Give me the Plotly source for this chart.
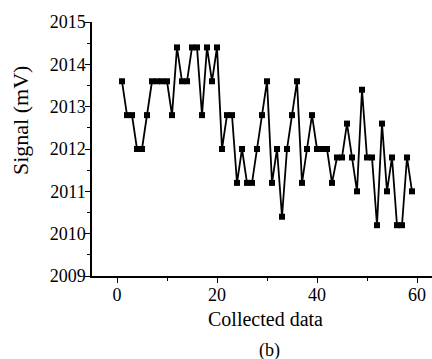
import plotly.graph_objects as go

x_index = list(range(1, 60))
signal_mv = [
    2013.6, 2012.8, 2012.8, 2012.0, 2012.0, 2012.8, 2013.6, 2013.6, 2013.6, 2013.6,
    2012.8, 2014.4, 2013.6, 2013.6, 2014.4, 2014.4, 2012.8, 2014.4, 2013.6, 2014.4,
    2012.0, 2012.8, 2012.8, 2011.2, 2012.0, 2011.2, 2011.2, 2012.0, 2012.8, 2013.6,
    2011.2, 2012.0, 2010.4, 2012.0, 2012.8, 2013.6, 2011.2, 2012.0, 2012.8, 2012.0,
    2012.0, 2012.0, 2011.2, 2011.8, 2011.8, 2012.6, 2011.8, 2011.0, 2013.4, 2011.8,
    2011.8, 2010.2, 2012.6, 2011.0, 2011.8, 2010.2, 2010.2, 2011.8, 2011.0,
]
x_ticks = [0, 20, 40, 60]
y_ticks = [2009, 2010, 2011, 2012, 2013, 2014, 2015]

FONT = "Liberation Serif"
W, H = 432, 359
L, R, T, B = 92, 0, 22, 83

fig = go.Figure()
fig.add_trace(go.Scatter(
    x=x_index, y=signal_mv, mode="lines+markers",
    line=dict(color="black", width=1.8),
    marker=dict(symbol="square", size=6, color="black"),
    showlegend=False,
))

fig.update_layout(
    width=W, height=H,
    margin=dict(l=L, r=R, t=T, b=B, pad=0),
    paper_bgcolor="white", plot_bgcolor="white",
    font=dict(family=FONT, size=18, color="black"),
)
for upd, rng, tv, mdt, sto in (
    (fig.update_xaxes, [-5, 63], x_ticks, 10, -3),
    (fig.update_yaxes, [2009, 2015], y_ticks, 0.5, -4),
):
    upd(
        range=rng, tickmode="array", tickvals=tv, ticktext=[str(v) for v in tv],
        showline=True, linecolor="black", linewidth=1.5,
        ticks="outside", ticklen=5, tickwidth=1.2, tickcolor="black",
        minor=dict(ticks="outside", ticklen=3, dtick=mdt, tickcolor="black", tickwidth=1.2),
        showgrid=False, zeroline=False, automargin=False,
        ticklabelstandoff=sto,
        tickfont=dict(family=FONT, size=18, color="black"),
    )

fig.update_layout(annotations=[
    dict(text="Collected data", xref="paper", yref="paper",
         x=(265 - L) / (W - L - R), y=-(319 - (H - B)) / (H - T - B),
         showarrow=False, xanchor="center", yanchor="middle",
         font=dict(family=FONT, size=20, color="black")),
    dict(text="(b)", xref="paper", yref="paper",
         x=(269 - L) / (W - L - R), y=-(350 - (H - B)) / (H - T - B),
         showarrow=False, xanchor="center", yanchor="middle",
         font=dict(family=FONT, size=18, color="black")),
    dict(text="Signal (mV)", xref="paper", yref="paper",
         x=-(L - 20) / (W - L - R), y=((H - B) - 121) / (H - T - B),
         showarrow=False, xanchor="center", yanchor="middle", textangle=-90,
         font=dict(family=FONT, size=22, color="black")),
])

fig.write_html(
    "out.html",
    config={"displayModeBar": False},
    post_script="document.body.style.margin='0';document.body.style.padding='0';",
)
